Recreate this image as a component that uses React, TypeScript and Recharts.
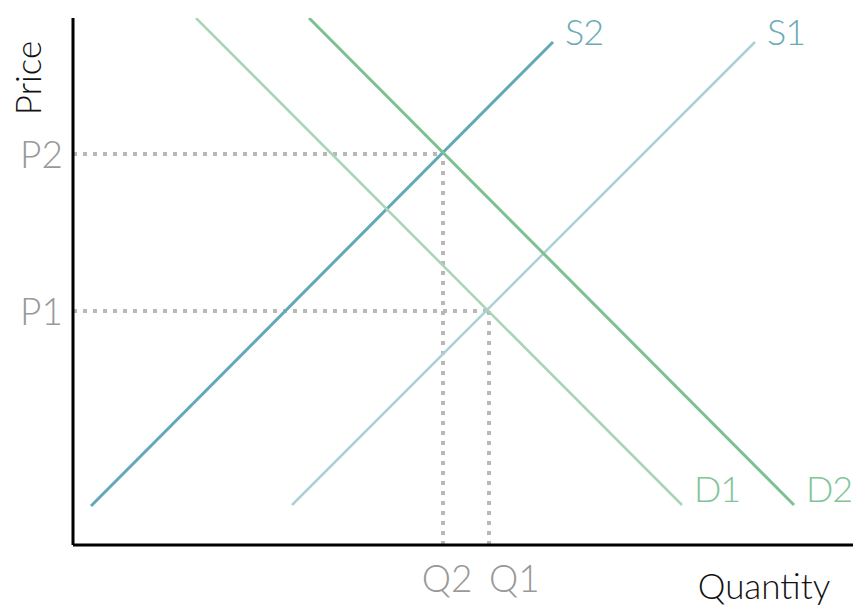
import React from 'react';
import { ScatterChart, Scatter, XAxis, YAxis, ReferenceLine, ReferenceDot } from 'recharts';

// curve endpoints, quantity / price units
const s1Q = [21.9, 68.2];
const s1P = [4.0, 50.3];
const s2Q = [1.8, 48.0];
const s2P = [3.9, 50.3];
const d1Q = [12.3, 60.9];
const d1P = [52.7, 4.0];
const d2Q = [23.6, 72.1];
const d2P = [52.7, 4.0];

// equilibria
const eqQ = [41.6, 37.0];
const eqP = [23.4, 39.1];
const qLabels = ['Q1', 'Q2'];
const pLabels = ['P1', 'P2'];

const FONT = 'Lato, "Open Sans", sans-serif';

const toPoints = (q: number[], p: number[]) => q.map((v, i) => ({ q: v, p: p[i] }));

const curves = [
  { name: 'S2', q: s2Q, p: s2P, stroke: '#62a9b6', width: 3, text: '#6aabb7', dy: 3 },
  { name: 'S1', q: s1Q, p: s1P, stroke: '#abd1d7', width: 2.5, text: '#6aabb7', dy: 3 },
  { name: 'D1', q: d1Q, p: d1P, stroke: '#a9d4b6', width: 2.5, text: '#80c597', dy: -3 },
  { name: 'D2', q: d2Q, p: d2P, stroke: '#7dc192', width: 3, text: '#80c597', dy: -3 },
];

const NoDot = () => <g />;

const QTick = (props: any) => {
  const { x, y, payload } = props;
  const i = eqQ.indexOf(payload.value);
  const first = qLabels[i] === 'Q1';
  return (
    <text
      x={first ? x : x + 4}
      y={y + 45}
      textAnchor={first ? 'start' : 'middle'}
      fill="#999"
      fontSize={37}
      fontWeight={300}
      fontFamily={FONT}
    >
      {qLabels[i]}
    </text>
  );
};

const PTick = (props: any) => {
  const { x, y, payload } = props;
  const i = eqP.indexOf(payload.value);
  return (
    <text x={x - 51} y={y + 14} textAnchor="start" fill="#999" fontSize={37} fontWeight={300} fontFamily={FONT}>
      {pLabels[i]}
    </text>
  );
};

const CurveLabel = (name: string, color: string, dy: number) => (props: any) => {
  const { viewBox } = props;
  const cx = viewBox.x + (viewBox.width || 0) / 2;
  const cy = viewBox.y + (viewBox.height || 0) / 2;
  return (
    <text
      x={cx + 12}
      y={cy + dy}
      textAnchor="start"
      fill={color}
      fontSize={36}
      fontWeight={300}
      letterSpacing={-1}
      fontFamily={FONT}
    >
      {name}
    </text>
  );
};

export default function App() {
  return (
    <div style={{ position: 'absolute', left: 0, top: 0, width: 853, height: 608, background: '#fff' }}>
      <ScatterChart width={853} height={608} margin={{ top: 18, right: 0, bottom: 0, left: 0 }}>
        <XAxis
          type="number"
          dataKey="q"
          domain={[0, 78]}
          ticks={eqQ}
          tick={<QTick />}
          tickLine={false}
          tickSize={0}
          height={63}
          axisLine={{ stroke: '#000', strokeWidth: 3 }}
          allowDataOverflow
        />
        <YAxis
          type="number"
          dataKey="p"
          domain={[0, 52.7]}
          ticks={eqP}
          tick={<PTick />}
          tickLine={false}
          tickSize={0}
          width={73}
          axisLine={{ stroke: '#000', strokeWidth: 3 }}
          allowDataOverflow
        />
        {eqQ.map((q, i) => (
          <ReferenceLine
            key={`h${i}`}
            segment={[{ x: 0, y: eqP[i] }, { x: q, y: eqP[i] }]}
            stroke="#b8b8b8"
            strokeWidth={4}
            strokeDasharray="4 6"
          />
        ))}
        {eqQ.map((q, i) => (
          <ReferenceLine
            key={`v${i}`}
            segment={[{ x: q, y: 0 }, { x: q, y: eqP[i] }]}
            stroke="#b8b8b8"
            strokeWidth={4}
            strokeDasharray="4 6"
          />
        ))}
        {curves.map((c) => (
          <Scatter
            key={c.name}
            name={c.name}
            data={toPoints(c.q, c.p)}
            line={{ stroke: c.stroke, strokeWidth: c.width }}
            shape={<NoDot />}
            isAnimationActive={false}
          />
        ))}
        {curves.map((c) => (
          <ReferenceDot
            key={`l${c.name}`}
            x={c.q[1]}
            y={c.p[1]}
            r={0}
            fill="none"
            stroke="none"
            label={CurveLabel(c.name, c.text, c.dy)}
          />
        ))}
      </ScatterChart>
      <div
        style={{
          position: 'absolute',
          left: 27,
          top: 78,
          transform: 'translate(-50%, -50%) rotate(-90deg)',
          fontFamily: FONT,
          fontWeight: 300,
          fontSize: 35,
          color: '#111',
          whiteSpace: 'nowrap',
        }}
      >
        Price
      </div>
      <div
        style={{
          position: 'absolute',
          left: 764,
          top: 585,
          transform: 'translate(-50%, -50%)',
          fontFamily: FONT,
          fontWeight: 300,
          fontSize: 35,
          lineHeight: '38px',
          color: '#111',
          whiteSpace: 'nowrap',
        }}
      >
        Quantity
      </div>
    </div>
  );
}
